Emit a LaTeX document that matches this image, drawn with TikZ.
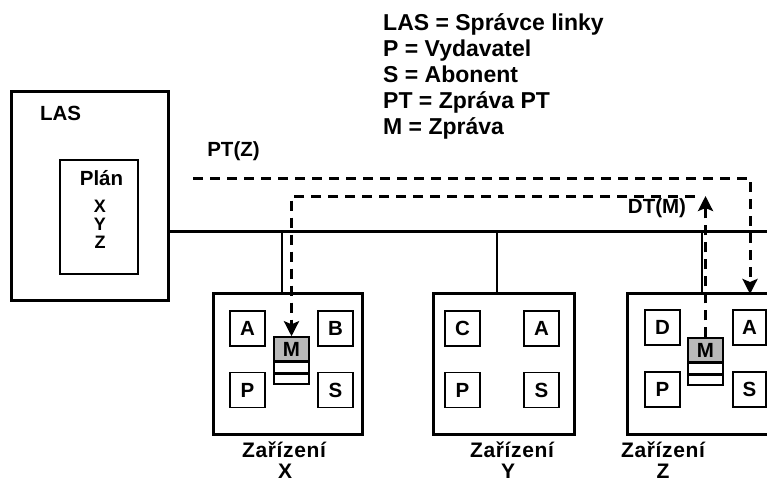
\documentclass[tikz,border=0pt]{standalone}
\usepackage{fontspec}
\setmainfont{Liberation Sans}
\newfontfamily\spacedfont{Liberation Sans}[LetterSpace=3]
\usepackage{tikz}
\usetikzlibrary{arrows.meta,positioning}

\begin{document}
\begin{tikzpicture}[
    x=1pt, y=-1pt,
    every node/.style={inner sep=0pt, font=\bfseries\fontsize{20.5}{24}\selectfont},
    unit/.style={draw, line width=3pt, minimum width=#1, minimum height=141pt},
    role/.style={draw, line width=1.6pt, minimum width=35pt, minimum height=35pt},
    msg/.style={draw, line width=1.5pt, fill=gray!55, minimum width=35pt, minimum height=24pt},
    slot/.style={draw, line width=1.5pt, fill=white, minimum width=35pt, minimum height=10pt},
    legend/.style={anchor=base west, font=\bfseries\fontsize{23}{26}\selectfont},
    devname/.style={anchor=base, font=\spacedfont\bfseries\fontsize{21}{24}\selectfont},
    planitem/.style={font=\bfseries\fontsize{18}{20}\selectfont},
    flow/.style={line width=3pt, dash pattern=on 10pt off 7pt, -{Stealth[length=15pt, width=15pt, inset=3pt]}},
    wire/.style={line width=2.6pt}
]
\fill[white] (0,0) rectangle (767,482);
\useasboundingbox (0,0) rectangle (767,482);

% legend
\foreach \txt [count=\i] in {LAS = Správce linky, P = Vydavatel, S = Abonent, PT = Zpráva PT, M = Zpráva}
  \node[legend] (leg\i) at (383, {30+26.2*(\i-1)}) {\txt};

% line administrator
\node[draw, line width=3pt, minimum width=157pt, minimum height=209pt] (las) at (89.5,195.5) {};
\node (lastitle) at (60.5,113) {LAS};
\node[draw, line width=1.6pt, minimum width=78pt, minimum height=114pt] (plan) at (99,217) {};
\node[anchor=base] (plantitle) at (101.5,185) {Plán};
\node[planitem] (planx) at (100,206) {X};
\node[planitem] (plany) at (100,224) {Y};
\node[planitem] (planz) at (100,242) {Z};

% device X
\node[unit=149pt] (devX) at (287.5,363.5) {};
\node[role] (aX) at (247.5,328.5) {A};
\node[role] (bX) at (335.5,328.5) {B};
\node[role] (pX) at (247.5,390) {P};
\node[role] (sX) at (335.5,390) {S};
\node[msg] (mX) at (291.5,349) {M};
\node[slot, below=0pt of mX] (m1X) {};
\node[slot, below=0pt of m1X] (m2X) {};
\node[devname] (nameX) at (284,457) {Zařízení};
\node[devname] (letX) at (285,478) {X};

% device Y
\node[unit=141pt] (devY) at (503.5,363.5) {};
\node[role] (cY) at (462.5,328.5) {C};
\node[role] (aY) at (541.5,328.5) {A};
\node[role] (pY) at (462.5,390) {P};
\node[role] (sY) at (541.5,390) {S};
\node[devname] (nameY) at (512,457) {Zařízení};
\node[devname] (letY) at (508,478) {Y};

% device Z
\node[unit=149pt] (devZ) at (701.5,364) {};
\node[role] (dZ) at (662.5,327.5) {D};
\node[role, minimum width=33pt] (aZ) at (749.5,327.5) {A};
\node[role] (pZ) at (662.5,389.5) {P};
\node[role, minimum width=33pt] (sZ) at (749.5,389.5) {S};
\node[msg] (mZ) at (705.5,350) {M};
\node[slot, below=0pt of mZ] (m1Z) {};
\node[slot, below=0pt of m1Z] (m2Z) {};
\node[devname] (nameZ) at (663,457) {Zařízení};
\node[devname] (letZ) at (663,478) {Z};

% bus and taps
\coordinate (busend) at (770,231);
\draw[line width=3pt] (las.east |- busend) -- (busend);
\coordinate (tapX) at (282,231);
\coordinate (tapY) at (497,231);
\coordinate (tapZ) at (702,231);
\draw[wire] (tapX) -- (tapX |- devX.north);
\draw[wire] (tapY) -- (tapY |- devY.north);
\draw[wire] (tapZ) -- (tapZ |- devZ.north);

% messages
\coordinate (ptstart) at (193,178);
\coordinate (zin) at (750,294);
\draw[flow] (ptstart) -| (zin);
\node (ptlabel) at (233.5,151.5) {PT(Z)};
\coordinate (dtend) at (695,196);
\draw[flow] (dtend) -- (mX.north |- dtend) -- (mX.north);
\draw[flow] (mZ.north) -- (mZ.north |- dtend);
\node (dtlabel) at (657,208) {DT(M)};

\end{tikzpicture}
\end{document}
